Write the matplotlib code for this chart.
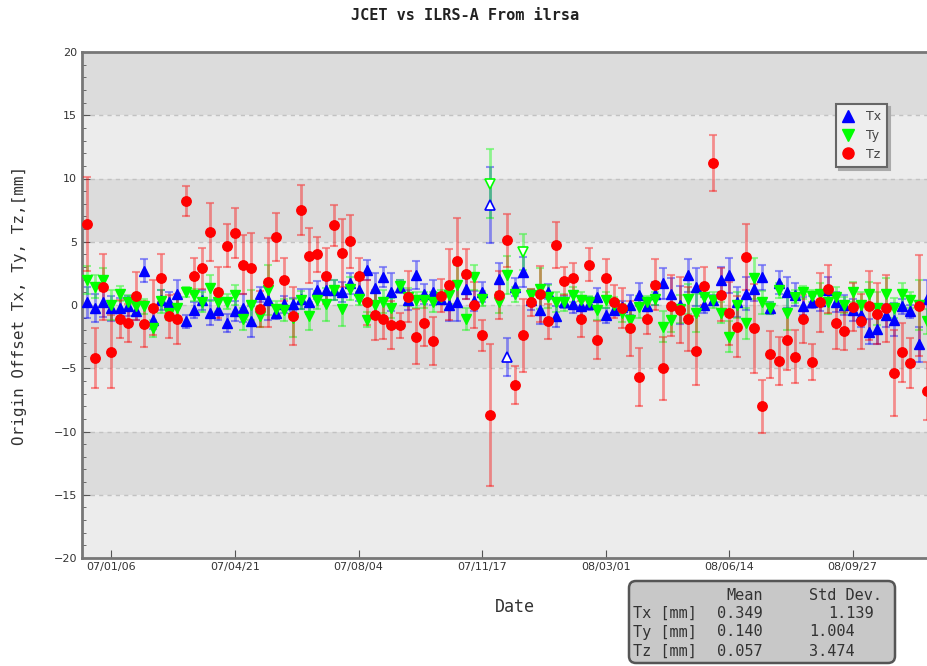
import numpy as np
import pandas as pd
import matplotlib
matplotlib.use('Agg')
import matplotlib.pyplot as plt
import matplotlib.dates as mdates
from matplotlib.lines import Line2D
from matplotlib.patches import FancyBboxPatch
from matplotlib.transforms import IdentityTransform

# weekly solutions
dates = pd.date_range('2006-12-16', periods=103, freq='7D')

tx = [0.2, -0.25, 0.25, -0.25, -0.25, -0.1, -0.5, 2.7, -1.2, 0.4,
      0.2, 0.85, -1.3, -0.4, 0.4, -0.6, -0.4, -1.45, -0.5, -0.25,
      -1.3, 0.85, 0.4, -0.6, 0.05, 0.05, 0.45, 0.25, 1.2, 1.15,
      1.2, 1.05, 1.7, 1.15, 2.75, 1.35, 2.2, 1.05, 1.45, 0.4,
      2.35, 0.85, 1.0, 0.5, 0.0, 0.25, 1.3, 0.3, 1.0, 7.9,
      2.05, -4.1, 1.45, 2.6, 0.4, -0.4, 1.05, -0.9, 0.25, 0.05,
      -0.05, 0.1, 0.65, -0.8, -0.4, -0.15, 0.0, 0.8, -0.1, 0.9,
      1.7, 0.9, 0.0, 2.35, 1.45, 0.0, 0.4, 2.0, 2.35, 0.25,
      0.9, 1.3, 2.2, -0.25, 1.75, 1.0, 0.8, -0.1, 0.25, 0.3,
      1.2, 0.25, 0.0, -0.4, -0.8, -2.1, -1.9, -0.8, -1.15, -0.1,
      -0.5, -3.1, 0.5]
tx_err = [1.2, 1.1, 1.2, 1.0, 0.8, 0.8, 0.7, 0.9, 0.7, 0.8,
          0.8, 1.1, 0.5, 0.6, 0.8, 1.0, 0.8, 0.7, 0.8, 1.1,
          1.2, 0.6, 1.6, 0.5, 0.7, 0.5, 0.8, 1.0, 0.7, 0.8,
          0.8, 0.8, 0.8, 0.8, 0.8, 1.2, 0.8, 1.5, 0.5, 0.8,
          1.1, 0.8, 1.0, 0.4, 1.3, 1.5, 0.8, 0.8, 0.8, 3.0,
          1.3, 1.5, 0.7, 1.2, 0.8, 1.1, 0.6, 0.8, 0.5, 0.7,
          0.8, 0.5, 0.7, 0.6, 0.4, 0.5, 0.8, 0.9, 0.4, 0.9,
          1.2, 1.2, 1.5, 1.3, 1.5, 0.6, 0.4, 1.0, 1.4, 1.2,
          1.3, 1.0, 1.0, 0.5, 0.9, 1.2, 0.9, 0.7, 0.5, 0.8,
          1.0, 0.8, 0.8, 0.9, 0.9, 1.0, 1.2, 0.9, 1.3, 0.6,
          0.5, 1.4, 1.5]

ty = [2.0, 1.45, 2.0, 0.0, 0.9, 0.2, -0.1, -0.1, -1.85, 0.3,
      -0.6, -0.25, 1.05, 0.8, 0.25, 1.35, 0.25, 0.25, 0.8, -1.1,
      0.0, -0.9, 1.2, -0.35, -0.4, -1.05, 0.4, -0.9, 0.4, 0.05,
      1.2, -0.35, 1.3, 0.5, -1.15, 0.0, 0.25, -0.25, 1.5, 0.65,
      0.4, 0.4, 0.25, 0.65, 0.8, 1.6, -1.1, 2.2, 0.5, 9.6,
      0.2, 2.35, 0.85, 4.2, 0.8, 1.3, 0.65, 0.25, 0.2, 0.8,
      0.4, 0.25, -0.4, 0.4, 0.0, -0.65, -1.15, -0.15, 0.2, 0.5,
      -1.7, -1.2, -0.3, 0.45, -0.65, 0.65, 0.4, -0.6, -2.5, 0.0,
      -1.45, 2.1, 0.2, -0.25, 1.15, -0.6, 0.65, 1.0, 0.7, 0.9,
      0.25, 0.65, 0.0, 1.0, 0.0, 0.85, -0.25, 0.85, -0.25, 0.85,
      0.4, 0.0, -1.3]
ty_err = [1.1, 0.9, 0.9, 1.2, 0.6, 0.6, 0.6, 0.6, 0.7, 0.9,
          0.6, 0.8, 0.4, 0.5, 0.8, 1.0, 0.8, 0.6, 0.8, 0.9,
          1.2, 0.8, 2.0, 0.7, 0.9, 1.5, 0.7, 1.1, 0.7, 1.3,
          0.8, 1.3, 0.9, 0.5, 0.6, 1.0, 0.9, 0.8, 0.5, 0.7,
          0.6, 0.6, 0.8, 0.5, 0.7, 1.6, 0.9, 1.0, 0.6, 2.7,
          0.8, 1.5, 0.6, 1.4, 0.5, 1.6, 0.9, 0.8, 0.7, 0.6,
          0.6, 0.5, 0.8, 0.6, 0.6, 0.7, 1.0, 0.9, 0.5, 0.5,
          1.2, 0.9, 1.1, 1.2, 1.5, 0.8, 0.6, 0.8, 1.2, 1.0,
          1.2, 1.6, 0.9, 0.5, 0.6, 1.4, 0.5, 0.5, 0.5, 0.8,
          1.0, 0.8, 0.6, 0.8, 1.0, 1.0, 1.3, 1.3, 0.8, 0.9,
          0.6, 2.0, 1.0]

tz = [6.4, -4.2, 1.45, -3.7, -1.1, -1.4, 0.7, -1.5, -0.2, 2.1,
      -0.9, -1.1, 8.2, 2.3, 2.9, 5.8, 1.0, 4.7, 5.7, 3.2,
      2.9, -0.3, 1.8, 5.4, 2.0, -0.9, 7.5, 3.9, 4.0, 2.3,
      6.3, 4.1, 5.05, 2.3, 0.2, -0.8, -1.1, -1.6, -1.6, 0.65,
      -2.5, -1.45, -2.85, 0.75, 1.6, 3.5, 2.45, 0.0, -2.4, -8.7,
      0.8, 5.1, -6.3, -2.4, 0.2, 0.85, -1.3, 4.75, 1.9, 2.1,
      -1.1, 3.2, -2.8, 2.1, 0.25, -0.25, -1.85, -5.7, -1.1, 1.6,
      -5.0, -0.05, -0.4, -1.1, -3.6, 1.5, 11.2, 0.8, -0.65, -1.7,
      3.8, -1.85, -8.0, -3.9, -4.4, -2.8, -4.1, -1.1, -4.5, 0.2,
      1.3, -1.4, -2.05, -0.15, -1.3, -0.05, -0.7, -0.25, -5.35, -3.75,
      -4.6, -0.05, -6.8]
tz_err = [3.7, 2.4, 2.6, 2.9, 1.5, 1.5, 1.9, 1.8, 2.2, 1.9,
          1.7, 2.0, 1.2, 1.4, 1.6, 2.3, 2.0, 1.7, 2.0, 2.3,
          2.8, 1.4, 3.5, 1.9, 1.7, 2.3, 2.0, 2.2, 1.4, 2.2,
          1.6, 2.7, 2.1, 1.4, 1.8, 2.0, 1.6, 1.9, 1.0, 2.0,
          2.2, 1.8, 1.9, 1.3, 2.8, 3.4, 2.0, 1.8, 1.2, 5.6,
          1.9, 2.1, 1.5, 2.9, 1.1, 2.2, 1.4, 1.8, 1.1, 1.2,
          1.4, 1.3, 1.5, 1.5, 1.3, 1.6, 2.2, 2.3, 1.2, 2.0,
          2.5, 2.4, 2.6, 2.5, 2.7, 1.5, 2.2, 2.1, 2.5, 2.4,
          2.6, 3.5, 2.1, 1.85, 1.9, 2.3, 2.1, 1.9, 1.4, 2.3,
          1.9, 2.05, 1.5, 1.9, 2.15, 2.7, 2.4, 2.65, 3.4, 2.3,
          2.0, 4.0, 2.3]

# weeks drawn with open markers
tx_open = [49, 51]
ty_open = [49, 53]
tz_open = []

stat_names = ['Tx [mm]', 'Ty [mm]', 'Tz [mm]']
stat_mean = [0.349, 0.140, 0.057]
stat_std = [1.139, 1.004, 3.474]

W, H = 928, 666
fig = plt.figure(figsize=(W / 100, H / 100), dpi=100)
ax = fig.add_axes([82 / W, 1 - 558 / H, 1 - 82 / W, 506 / H])

# alternating grey bands every 5 mm
for lo in range(-20, 20, 5):
    ax.axhspan(lo, lo + 5, color='#dcdcdc' if (lo // 5) % 2 == 1 else '#ececec',
               lw=0, zorder=0)
for yv in range(-15, 20, 5):
    ax.axhline(yv, color='#c2c2c2', lw=1, ls=(0, (3, 3)), zorder=0.5)

series = [
    (tx, tx_err, tx_open, 'Tx', '^', '#0000ff', 6.5),
    (ty, ty_err, ty_open, 'Ty', 'v', '#00ff00', 6.5),
    (tz, tz_err, tz_open, 'Tz', 'o', '#ff0000', 6.8),
]
handles = []
for z, (vals, errs, opened, name, mk, col, ms) in enumerate(series):
    vals = np.array(vals)
    ax.errorbar(dates, vals, yerr=errs, fmt='none', ecolor=col, alpha=0.4,
                elinewidth=2, capsize=3, capthick=1.5, zorder=2 + z)
    mask = np.zeros(len(vals), bool)
    mask[opened] = True
    ax.plot(dates[~mask], vals[~mask], ls='none', marker=mk, ms=ms, color=col,
            mec=col, zorder=5 + z)
    if mask.any():
        ax.plot(dates[mask], vals[mask], ls='none', marker=mk, ms=ms, mfc='white',
                mec=col, mew=1.2, zorder=5 + z)
    handles.append(Line2D([], [], ls='none', marker=mk, ms=8, color=col, label=name))

ax.set_ylim(-20, 20)
ax.set_xlim(dates[0] - pd.Timedelta(days=4), dates[-1] + pd.Timedelta(days=1))
ax.set_yticks(range(-20, 21, 5))
ax.set_yticks(range(-20, 21), minor=True)
ax.set_xticks(pd.date_range('2007-01-06', periods=7, freq='105D'))
ax.xaxis.set_major_formatter(mdates.DateFormatter('%y/%m/%d'))
ax.tick_params(axis='both', which='major', direction='in', length=6,
               color='#555555', labelsize=8, labelcolor='#333333')
ax.tick_params(axis='y', which='minor', direction='in', length=3, color='#555555')
ax.tick_params(axis='x', pad=3)

for s in ['left', 'top', 'bottom']:
    ax.spines[s].set_color('#777777')
    ax.spines[s].set_linewidth(2)
ax.spines['right'].set_visible(False)

mono = 'DejaVu Sans Mono'
fig.text(465 / W, 1 - 15 / H, 'JCET vs ILRS-A From ilrsa', ha='center', va='center',
         family=mono, fontsize=11, fontweight='bold', color='#222222')
fig.text(20 / W, 1 - 305 / H, 'Origin Offset Tx, Ty, Tz,[mm]', rotation=90,
         ha='center', va='center', family=mono, fontsize=11.5, color='#333333')
fig.text(515 / W, 1 - 607 / H, 'Date', ha='center', va='center', family=mono,
         fontsize=12, color='#333333')

leg = fig.legend(handles=handles, loc='upper left',
                 bbox_to_anchor=(836 / W, 1 - 104 / H), frameon=True, fancybox=False,
                 shadow={'color': '#aaaaaa', 'alpha': 1}, fontsize=9,
                 handlelength=1.0, handletextpad=0.9, borderpad=0.5,
                 labelspacing=0.45, borderaxespad=0)
leg.get_frame().set_edgecolor('#666666')
leg.get_frame().set_linewidth(1.5)
leg.get_frame().set_facecolor('#eeeeee')
for t in leg.get_texts():
    t.set_color('#444444')

# statistics box under the plot
box = FancyBboxPatch((629, 3), 266, 82, boxstyle='round,pad=0,rounding_size=7',
                     transform=IdentityTransform(), facecolor='#c8c8c8',
                     edgecolor='#555555', lw=1.8)
fig.patches.append(box)
kw = dict(family=mono, fontsize=11, color='#333333', va='center')
fig.text(763 / W, 1 - 595 / H, 'Mean', ha='right', **kw)
fig.text(882 / W, 1 - 595 / H, 'Std Dev.', ha='right', **kw)
std_right = [874, 855, 855]
for i, (nm, mv, sv) in enumerate(zip(stat_names, stat_mean, stat_std)):
    yy = 1 - (613 + 19 * i) / H
    fig.text(633 / W, yy, nm, ha='left', **kw)
    fig.text(763 / W, yy, f'{mv:.3f}', ha='right', **kw)
    fig.text(std_right[i] / W, yy, f'{sv:.3f}', ha='right', **kw)

fig.savefig('out.png', dpi=100)
